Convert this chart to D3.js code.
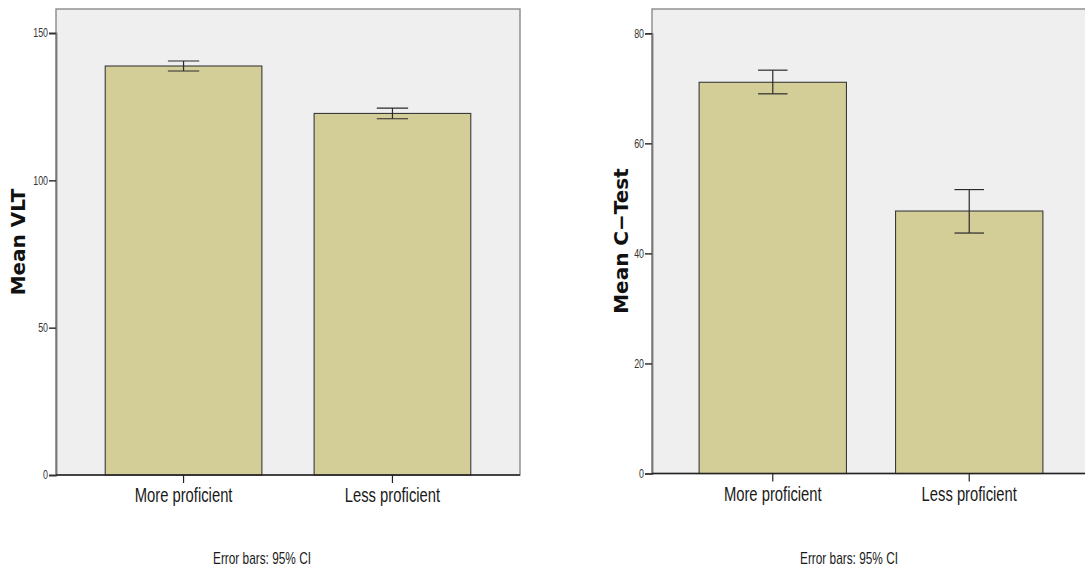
<!DOCTYPE html>
<html><head><meta charset="utf-8">
<script src="https://cdn.jsdelivr.net/npm/d3@7"></script>
<style>body{margin:0;background:#fff} svg{display:block}</style>
</head><body><svg id="c" width="1085" height="567"></svg>
<script>
// ---- data ----
const categories = ["More proficient", "Less proficient"];
const vltMeans = [138.8, 122.7];
const vltLower = [137.1, 120.9];
const vltUpper = [140.5, 124.5];
const vltTicks = [0, 50, 100, 150];
const ctestMeans = [71.1, 47.7];
const ctestLower = [69.0, 43.7];
const ctestUpper = [73.3, 51.6];
const ctestTicks = [0, 20, 40, 60, 80];
const vltTitle = "Mean VLT";
const ctestTitle = "Mean C\u2212Test";
const footnote = "Error bars: 95% CI";

// ---- layout ----
const panels = [
  {means: vltMeans, lo: vltLower, hi: vltUpper, ticks: vltTicks, title: vltTitle,
   frameL: 56, frameR: 520, frameT: 9, bottom: 475, topTickY: 33,
   bandL: 53, bandR: 523, titleX: 25, titleY: 242, noteX: 262},
  {means: ctestMeans, lo: ctestLower, hi: ctestUpper, ticks: ctestTicks, title: ctestTitle,
   frameL: 652, frameR: 1095, frameT: 9, bottom: 473.5, topTickY: 33.3,
   bandL: 650, bandR: 1092, titleX: 628, titleY: 241, noteX: 849}
];

const svg = d3.select("#c");
const font = "'Liberation Sans',Arial,sans-serif";
const squeeze = 0.74;

panels.forEach(p => {
  const g = svg.append("g");
  const y = d3.scaleLinear().domain([0, d3.max(p.ticks)]).range([p.bottom, p.topTickY]);
  const x = d3.scaleBand().domain(categories).range([p.bandL, p.bandR]).padding(0.25);

  // plot background + frame
  g.append("rect").attr("x", p.frameL).attr("y", p.frameT)
    .attr("width", p.frameR - p.frameL).attr("height", p.bottom - p.frameT)
    .attr("fill", "#efefef").attr("stroke", "#8a8a8a").attr("stroke-width", 1.4);

  // bars
  g.selectAll("rect.bar").data(categories).enter().append("rect")
    .attr("class", "bar")
    .attr("x", d => x(d)).attr("width", x.bandwidth())
    .attr("y", (d, i) => y(p.means[i]))
    .attr("height", (d, i) => p.bottom - y(p.means[i]))
    .attr("fill", "#d3ce98").attr("stroke", "#3a3a3a").attr("stroke-width", 1.1);

  // error bars
  const cap = x.bandwidth() * 0.2;
  categories.forEach((c, i) => {
    const cx = x(c) + x.bandwidth() / 2;
    const eb = g.append("g").attr("stroke", "#2a2a2a").attr("stroke-width", 1.2).attr("fill", "none");
    eb.append("line").attr("x1", cx).attr("x2", cx).attr("y1", y(p.hi[i])).attr("y2", y(p.lo[i]));
    eb.append("line").attr("x1", cx - cap / 2).attr("x2", cx + cap / 2).attr("y1", y(p.hi[i])).attr("y2", y(p.hi[i]));
    eb.append("line").attr("x1", cx - cap / 2).attr("x2", cx + cap / 2).attr("y1", y(p.lo[i])).attr("y2", y(p.lo[i]));
  });

  // y axis
  const ya = g.append("g").attr("transform", `translate(${p.frameL},0)`)
    .call(d3.axisLeft(y).tickValues(p.ticks).tickSize(7).tickPadding(2).tickFormat(d3.format("d")));
  ya.select(".domain").attr("stroke", "#777").attr("stroke-width", 1.8);
  ya.selectAll(".tick line").attr("stroke", "#333").attr("stroke-width", 1.5);
  ya.selectAll(".tick text").attr("font-family", font).attr("font-size", 12).attr("fill", "#333")
    .attr("x", -8 / squeeze).attr("transform", `scale(${squeeze},1)`);

  // x axis
  const xa = g.append("g").attr("transform", `translate(0,${p.bottom})`)
    .call(d3.axisBottom(x).tickSize(8).tickPadding(5));
  xa.select(".domain").remove();
  g.append("line").attr("x1", p.frameL).attr("x2", Math.min(p.frameR, 1085)).attr("y1", p.bottom).attr("y2", p.bottom)
    .attr("stroke", "#222").attr("stroke-width", 1.5);
  xa.selectAll(".tick line").attr("stroke", "#222").attr("stroke-width", 1.2);
  xa.selectAll(".tick text").attr("font-family", font).attr("font-size", 20).attr("fill", "#1a1a1a")
    .attr("transform", `scale(${squeeze},1)`);

  // y title
  svg.append("text").attr("transform", `translate(${p.titleX},${p.titleY}) rotate(-90)`)
    .attr("text-anchor", "middle").attr("font-family", "'DejaVu Sans',sans-serif")
    .attr("font-weight", "bold").attr("font-size", 20).attr("fill", "#111").text(p.title);

  // footnote
  svg.append("text").attr("transform", `translate(${p.noteX},564) scale(${squeeze},1)`)
    .attr("text-anchor", "middle")
    .attr("font-family", font).attr("font-size", 16).attr("fill", "#1a1a1a").text(footnote);
});
</script></body></html>
